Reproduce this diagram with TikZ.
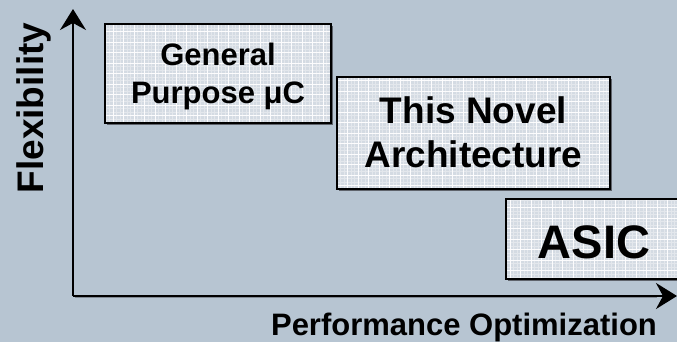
\documentclass[tikz,border=0pt]{standalone}
\usepackage{fontspec}
\setmainfont{Liberation Sans}
\usetikzlibrary{arrows.meta,shadows}
\definecolor{bgcol}{RGB}{183,197,210}
\definecolor{boxfill}{RGB}{212,219,227}
\definecolor{shadowcol}{RGB}{95,100,108}
\tikzset{
  gridbox/.style={draw=black, line width=2pt, fill=boxfill, inner sep=0pt, outer sep=0pt,
    drop shadow={shadow xshift=2pt, shadow yshift=-2pt, fill=shadowcol, opacity=1},
    path picture={
      \draw[white, opacity=0.35, line width=0.5pt] (path picture bounding box.south west) grid[step=3.5pt] (path picture bounding box.north east);
      \draw[white, opacity=0.9, line width=0.9pt] (path picture bounding box.south west) grid[step=10.5pt] (path picture bounding box.north east);
    }},
  boxtext/.style={font=\bfseries, align=center, inner sep=0pt, text=black},
  axisline/.style={line width=2pt, draw=black, -{Stealth[length=21pt, width=26pt, inset=7pt]}},
}
\begin{document}
\begin{tikzpicture}[x=1pt, y=-1pt]
\useasboundingbox (0,0) rectangle (677,342);
\clip (0,0) rectangle (677,342);
\fill[bgcol] (0,0) rectangle (677,342);

% boxes
\node[gridbox, minimum width=226pt, minimum height=99pt] (gp) at (218,73.5) {};
\node[gridbox, minimum width=273pt, minimum height=112pt] (tn) at (473.5,133) {};
\node[gridbox, minimum width=176pt, minimum height=80pt] (as) at (594,239) {};

% box texts
\node[boxtext, font=\bfseries\fontsize{31}{38}\selectfont] (gpt) at (218,76) {General\\Purpose μC};
\node[boxtext, font=\bfseries\fontsize{37}{44}\selectfont] (tnt) at (473.5,132.5) {This Novel\\Architecture};
\node[boxtext, font=\bfseries\fontsize{47}{56}\selectfont, anchor=base] (ast) at (594,258) {ASIC};

% axes
\coordinate (O) at (73,296);
\coordinate (ytip) at (73,9);
\coordinate (xtip) at (677,296);
\draw[line width=1pt, draw=shadowcol, opacity=0.6] ([shift={(1.5,1.5)}]O) -- ([shift={(-20,1.5)}]xtip);
\draw[axisline] (O) -- (ytip);
\draw[axisline] (O) -- (xtip);

% axis labels
\node[boxtext, font=\bfseries\fontsize{31}{38}\selectfont, anchor=base] (xlab) at (464,335) {Performance Optimization};
\node[boxtext, font=\bfseries\fontsize{37}{44}\selectfont, anchor=base, rotate=90] (ylab) at (43,108) {Flexibility};
\end{tikzpicture}
\end{document}
